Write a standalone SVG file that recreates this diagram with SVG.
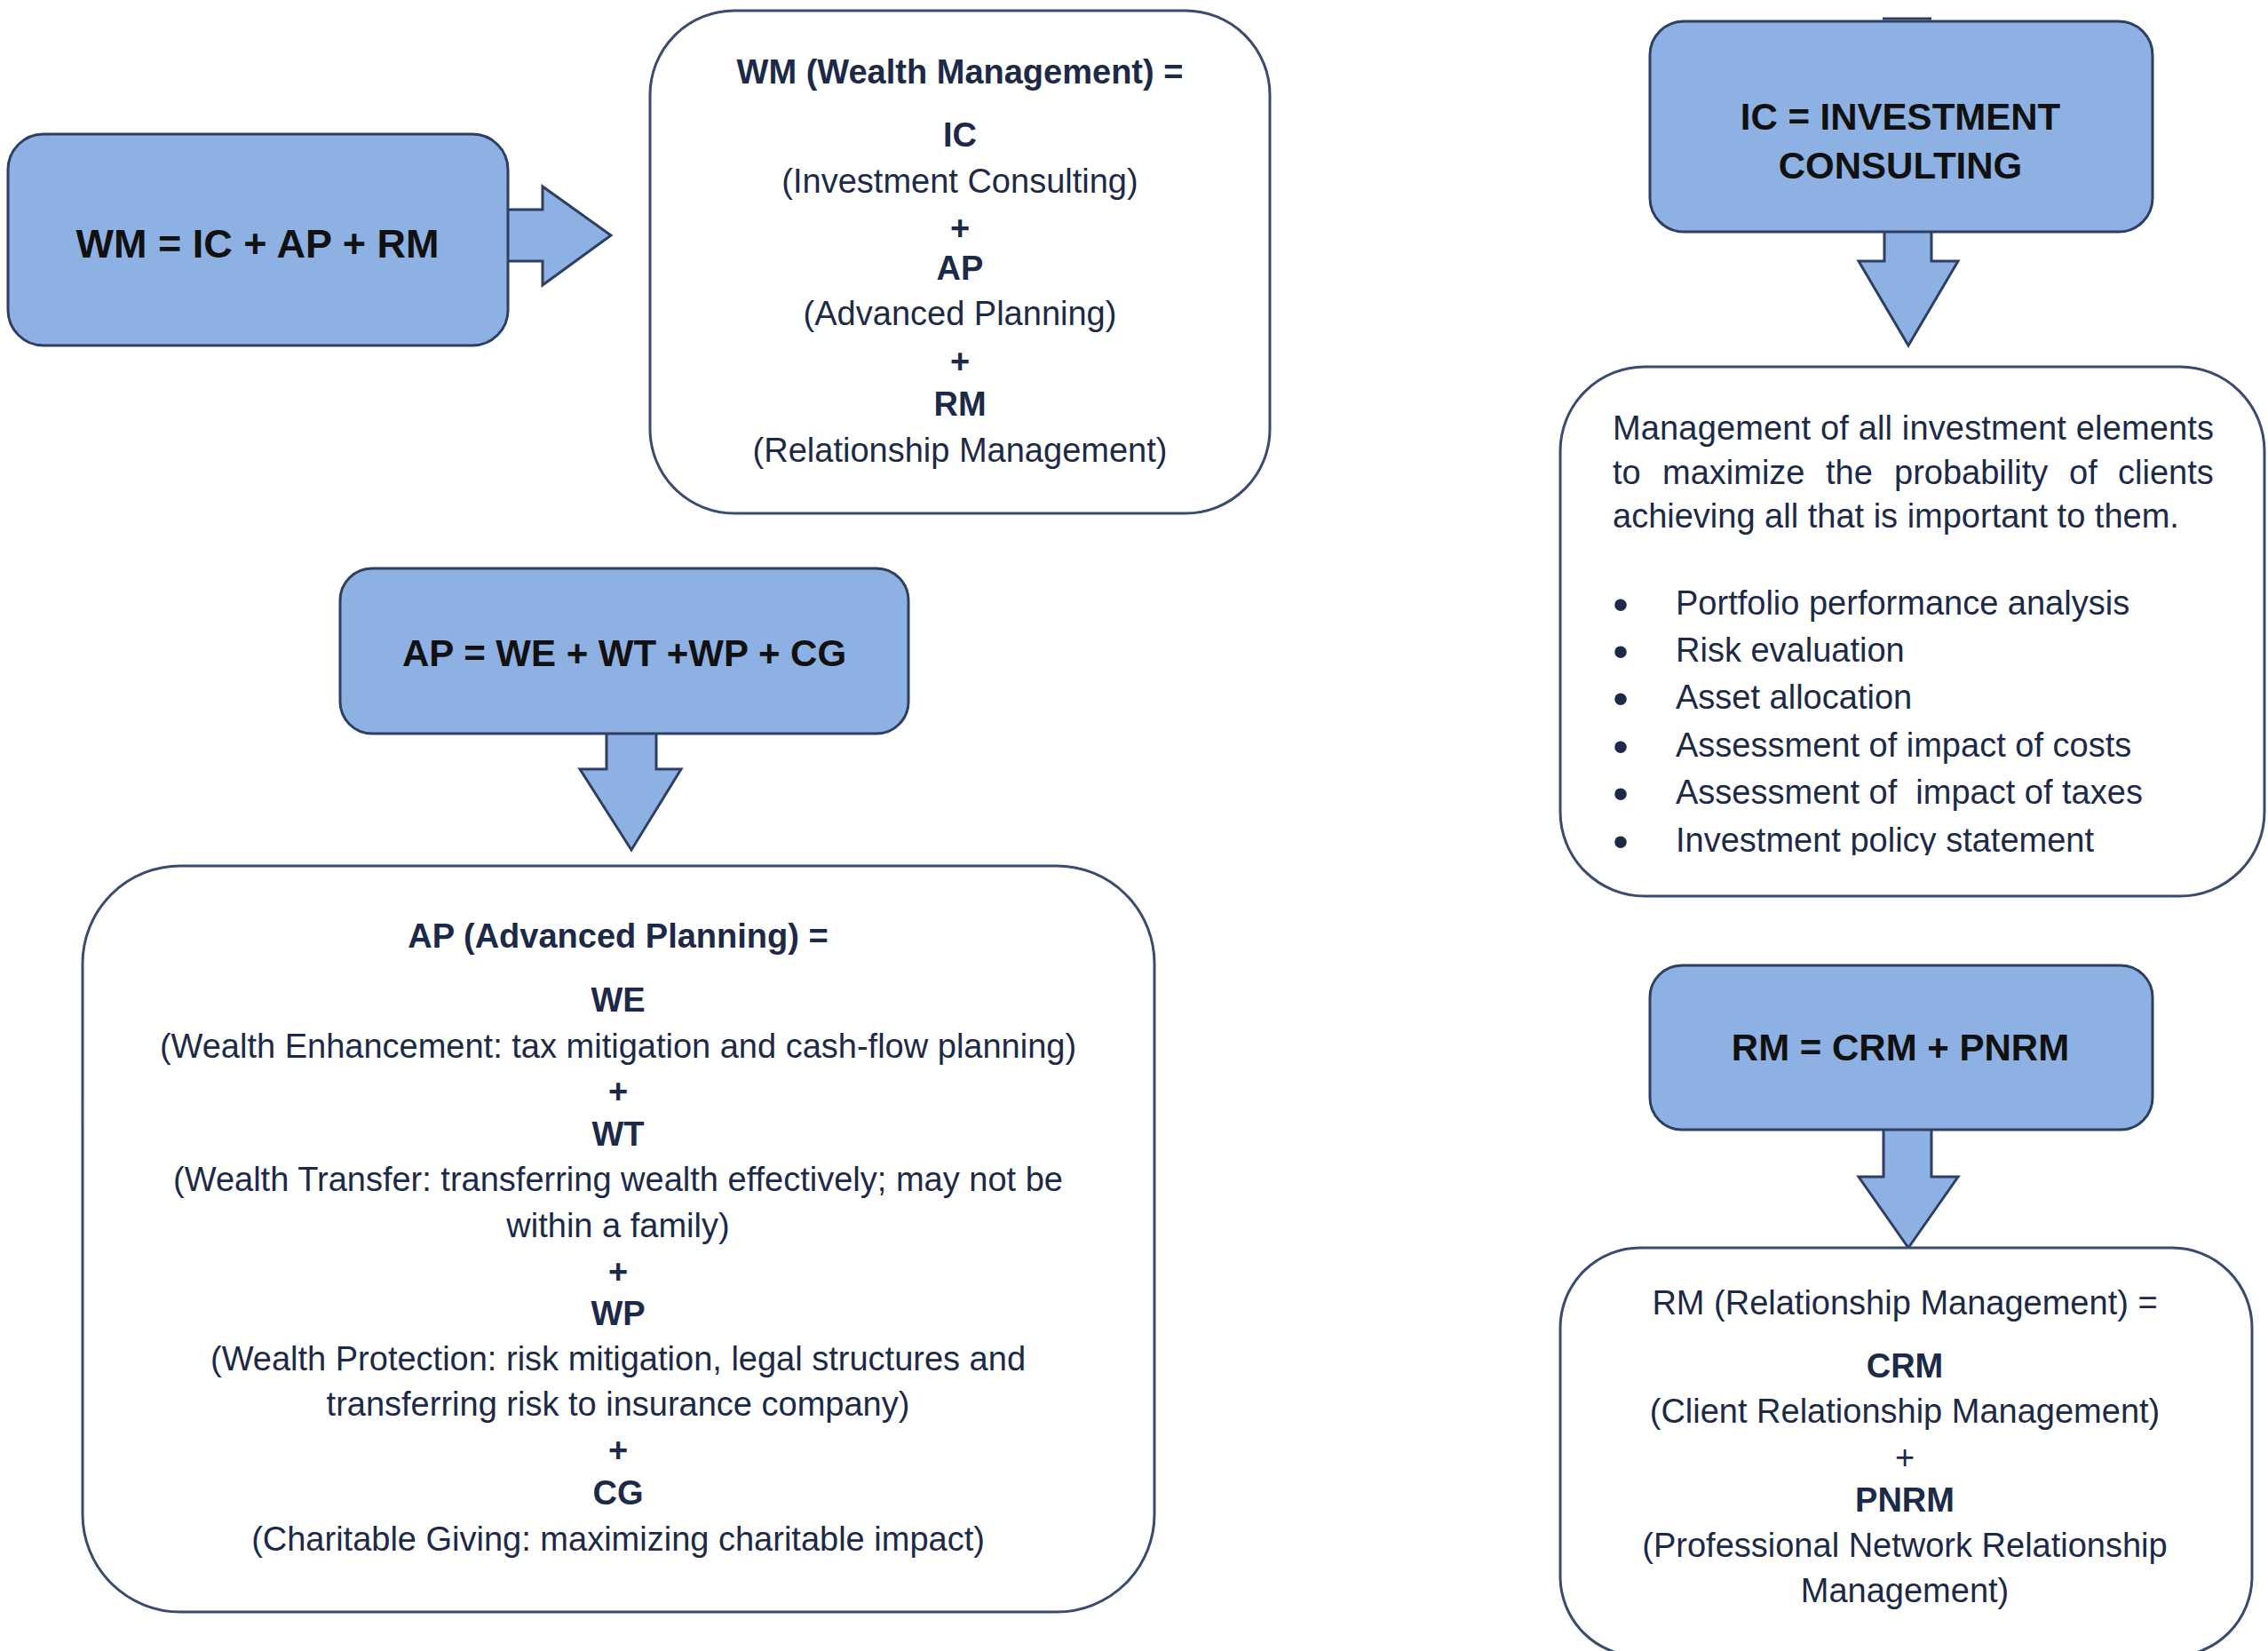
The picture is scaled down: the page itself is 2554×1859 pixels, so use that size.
<svg xmlns="http://www.w3.org/2000/svg" width="2554" height="1859" viewBox="0 0 2554 1859">
<defs>
<style>
.bb{fill:#8db1e2;stroke:#2e3f63;stroke-width:3}
.db{fill:#ffffff;stroke:#3a4b70;stroke-width:3}
.ar{fill:#8db1e2;stroke:#2e3f63;stroke-width:3;stroke-linejoin:miter}
text{font-family:"Liberation Sans",Arial,Helvetica,sans-serif}
.bt{font-weight:bold;fill:#111111;text-anchor:middle}
.dt{font-size:38px;fill:#1c2a48;text-anchor:middle}
.b{font-weight:bold}
.pl{font-size:38px;fill:#1c2a48}
.bu{font-size:50px;fill:#1c2a48;text-anchor:middle}
</style>
<clipPath id="icclip"><rect x="1700" y="400" width="854" height="563"/></clipPath>
</defs>
<rect width="2554" height="1859" fill="#ffffff"/>

<g id="connectors">
<path class="ar" d="M573,236 H611 V210 L688,265 L611,321 V294 H573"/>
<path class="ar" d="M2122,261 V294 H2093 L2149,389 L2205,294 H2175 V261"/>
<path class="ar" d="M683,826 V866 H653 L711,957 L767,866 H739 V826"/>
<path class="ar" d="M2121,1272 V1325 H2093 L2149,1405 L2205,1325 H2175 V1272"/>
<line x1="2120" y1="21" x2="2175" y2="21" stroke="#2e3f63" stroke-width="3"/>
</g>

<g id="wm">
<rect class="bb" x="9" y="151" width="563" height="238" rx="40"/>
<text class="bt" x="290" y="290" font-size="45">WM = IC + AP + RM</text>
</g>

<g id="wm-detail">
<rect class="db" x="732" y="12" width="698" height="566" rx="95"/>
<text class="dt b" x="1081" y="94">WM (Wealth Management) =</text>
<text class="dt b" x="1081" y="165">IC</text>
<text class="dt" x="1081" y="217">(Investment Consulting)</text>
<text class="dt b" x="1081" y="270">+</text>
<text class="dt b" x="1081" y="315">AP</text>
<text class="dt" x="1081" y="366">(Advanced Planning)</text>
<text class="dt b" x="1081" y="420">+</text>
<text class="dt b" x="1081" y="468">RM</text>
<text class="dt" x="1081" y="520">(Relationship Management)</text>
</g>

<g id="ic">
<rect class="bb" x="1858" y="24" width="566" height="237" rx="38"/>
<text class="bt" x="2140" y="146" font-size="42">IC = INVESTMENT</text>
<text class="bt" x="2140" y="201" font-size="42">CONSULTING</text>
</g>

<g id="ic-detail">
<rect class="db" x="1757" y="413" width="793" height="596" rx="95"/>
<text class="pl" x="1816" y="495" textLength="677" lengthAdjust="spacing">Management of all investment elements</text>
<text class="pl" y="545"><tspan x="1816">to</tspan><tspan x="1872">maximize</tspan><tspan x="2056">the</tspan><tspan x="2133">probability</tspan><tspan x="2330">of</tspan><tspan x="2385">clients</tspan></text>
<text class="pl" x="1816" y="594">achieving all that is important to them.</text>
<g clip-path="url(#icclip)">
<text class="bu" x="1825" y="698">•</text>
<text class="pl" x="1887" y="692">Portfolio performance analysis</text>
<text class="bu" x="1825" y="751">•</text>
<text class="pl" x="1887" y="745">Risk evaluation</text>
<text class="bu" x="1825" y="804">•</text>
<text class="pl" x="1887" y="798">Asset allocation</text>
<text class="bu" x="1825" y="858">•</text>
<text class="pl" x="1887" y="852">Assessment of impact of costs</text>
<text class="bu" x="1825" y="911">•</text>
<text class="pl" x="1887" y="905" xml:space="preserve">Assessment of  impact of taxes</text>
<text class="bu" x="1825" y="965">•</text>
<text class="pl" x="1887" y="959">Investment policy statement</text>
</g>
</g>

<g id="ap">
<rect class="bb" x="383" y="640" width="640" height="186" rx="36"/>
<text class="bt" x="703" y="750" font-size="42">AP = WE + WT +WP + CG</text>
</g>

<g id="ap-detail">
<rect class="db" x="93" y="975" width="1207" height="840" rx="110"/>
<text class="dt b" x="696" y="1067">AP (Advanced Planning) =</text>
<text class="dt b" x="696" y="1139">WE</text>
<text class="dt" x="696" y="1191">(Wealth Enhancement: tax mitigation and cash-flow planning)</text>
<text class="dt b" x="696" y="1242">+</text>
<text class="dt b" x="696" y="1290">WT</text>
<text class="dt" x="696" y="1341">(Wealth Transfer: transferring wealth effectively; may not be</text>
<text class="dt" x="696" y="1393">within a family)</text>
<text class="dt b" x="696" y="1445">+</text>
<text class="dt b" x="696" y="1492">WP</text>
<text class="dt" x="696" y="1543">(Wealth Protection: risk mitigation, legal structures and</text>
<text class="dt" x="696" y="1594">transferring risk to insurance company)</text>
<text class="dt b" x="696" y="1646">+</text>
<text class="dt b" x="696" y="1694">CG</text>
<text class="dt" x="696" y="1746">(Charitable Giving: maximizing charitable impact)</text>
</g>

<g id="rm">
<rect class="bb" x="1858" y="1087" width="566" height="185" rx="36"/>
<text class="bt" x="2140" y="1194" font-size="42">RM = CRM + PNRM</text>
</g>

<g id="rm-detail">
<rect class="db" x="1757" y="1405" width="779" height="460" rx="90"/>
<text class="dt" x="2145" y="1480">RM (Relationship Management) =</text>
<text class="dt b" x="2145" y="1551">CRM</text>
<text class="dt" x="2145" y="1602">(Client Relationship Management)</text>
<text class="dt" x="2145" y="1654">+</text>
<text class="dt b" x="2145" y="1702">PNRM</text>
<text class="dt" x="2145" y="1753">(Professional Network Relationship</text>
<text class="dt" x="2145" y="1804">Management)</text>
</g>
</svg>
